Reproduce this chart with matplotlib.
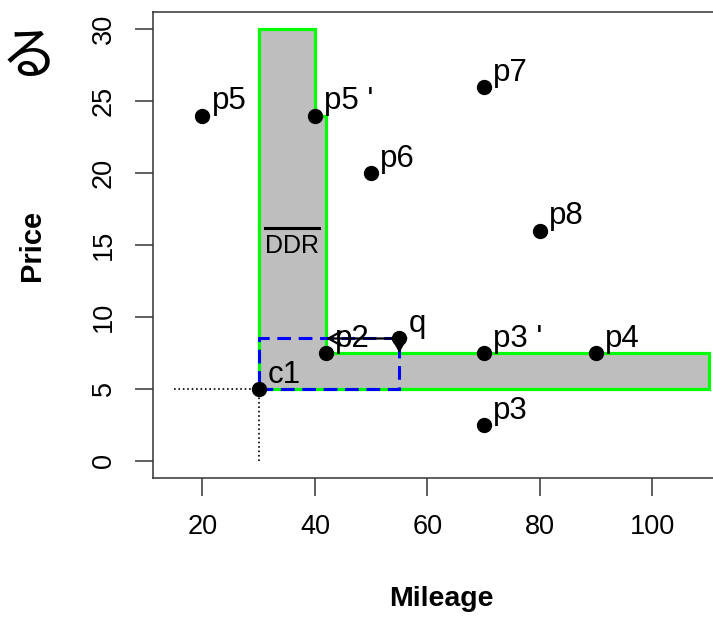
import numpy as np
import matplotlib
matplotlib.use('Agg')
import matplotlib.pyplot as plt
from matplotlib.patches import Polygon, Rectangle

plt.rcParams['font.family'] = ['Liberation Sans', 'DejaVu Sans']

# points and their labels
point_names = ['p2', 'p3', "p3 '", 'p4', 'p5', "p5 '", 'p6', 'p7', 'p8', 'q', 'c1']
point_x = [42, 70, 70, 90, 20, 40, 50, 70, 80, 55, 30]
point_y = [7.5, 2.5, 7.5, 7.5, 24, 24, 20, 26, 16, 8.5, 5]

# dynamic dominance region (L shaped polygon)
ddr_x = [30, 40, 40, 42, 42, 110, 110, 30]
ddr_y = [30, 30, 24, 24, 7.5, 7.5, 5, 5]

# window between c1 and q
c1 = (30, 5)
q = (55, 8.5)
arrow_ends = [(42, 8.5), (55, 7.5)]

x_ticks = [20, 40, 60, 80, 100]
y_ticks = [0, 5, 10, 15, 20, 25, 30]
x_data_range = (15, 110)
y_data_range = (0, 30)

fig = plt.figure(figsize=(7.13, 6.18), dpi=100)
# axes runs past the right edge of the picture, as in the original crop
ax = fig.add_axes([153/713, 1 - 478/618, 577/713, 466/618])

# R style 4% padding
def pad(r):
    d = (r[1] - r[0]) * 0.04
    return (r[0] - d, r[1] + d)

ax.set_xlim(pad(x_data_range))
ax.set_ylim(pad(y_data_range))

ax.add_patch(Polygon(list(zip(ddr_x, ddr_y)), closed=True, facecolor='#bebebe',
                     edgecolor='#00ff00', lw=2.3, zorder=1))
ax.add_patch(Rectangle(c1, q[0] - c1[0], q[1] - c1[1], fill=False,
                       edgecolor='blue', lw=2.2, linestyle=(0, (4.5, 2.5)), zorder=2))

# dotted guides from c1 to the axes
ax.plot([15, c1[0]], [c1[1], c1[1]], ls=':', color='black', lw=1.2, zorder=2)
ax.plot([c1[0], c1[0]], [0, c1[1]], ls=':', color='black', lw=1.2, zorder=2)

for end in arrow_ends:
    ax.annotate('', xy=end, xytext=q,
                arrowprops=dict(arrowstyle='->,head_length=0.45,head_width=0.25',
                                mutation_scale=20, color='black', lw=1.6,
                                shrinkA=0, shrinkB=0), zorder=3)

ax.scatter(point_x, point_y, s=100, color='black', zorder=4)
for name, px, py in zip(point_names, point_x, point_y):
    ax.annotate(name, (px, py), xytext=(6.5, 4.5), textcoords='offset points',
                fontsize=22.5, va='baseline', ha='left', zorder=5)

# DDR label with overline
ax.text(35.9, 14.9, 'DDR', fontsize=18, ha='center', va='center', zorder=5)
ax.plot([31.1, 40.7], [16.2, 16.2], color='black', lw=2.2, zorder=5)

ax.set_xticks(x_ticks)
ax.set_yticks(y_ticks)
ax.tick_params(axis='both', length=13, width=1.1, labelsize=19.5, pad=13, color='#333333')
ax.tick_params(axis='y', labelrotation=90)
for lab in ax.get_yticklabels():
    lab.set_va('center')
for s in ax.spines.values():
    s.set_linewidth(1.1)
    s.set_color('#333333')

ax.set_xlabel('Mileage', fontsize=20.5, fontweight='bold')
ax.set_ylabel('Price', fontsize=21, fontweight='bold')
ax.xaxis.set_label_coords(0.5, -0.232)
ax.yaxis.set_label_coords(-0.185, 0.5)

# character from the neighbouring text, kept just inside the frame
fig.text(0.5/713, 1 - 58/618, 'る', fontsize=41, ha='left', va='center',
         family=['Noto Sans CJK JP', 'DejaVu Sans'])

fig.savefig('out.png', dpi=100)
